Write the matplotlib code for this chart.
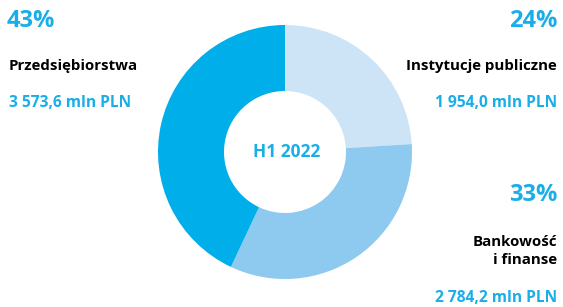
import matplotlib.pyplot as plt

# data
sectors = ['Instytucje publiczne', 'Bankowość\ni finanse', 'Przedsiębiorstwa']
shares = [24, 33, 43]
amounts = ['1 954,0 mln PLN', '2 784,2 mln PLN', '3 573,6 mln PLN']
period = 'H1 2022'

colors = ['#cde4f7', '#8ec9ef', '#00aeea']
accent = '#1aaee8'

W, H = 563, 307
fig = plt.figure(figsize=(W / 100, H / 100), dpi=100)
ax = fig.add_axes([0, 0, 1, 1])

cx, cy = 285, H - 152
ax.pie(shares, colors=colors, startangle=90, counterclock=False,
       radius=127, center=(cx, cy), frame=True,
       wedgeprops=dict(width=127 - 61, linewidth=0))
ax.set_xlim(0, W)
ax.set_ylim(0, H)
ax.set_aspect('equal')
ax.axis('off')

font = dict(family='Open Sans', fontweight='bold')
name_size = 10.8
amount_size = 11.2
pct_size = 17

ax.text(cx + 2, cy, period, ha='center', va='center', color=accent, fontsize=12.5, **font)

# left label (Przedsiębiorstwa)
ax.text(7, H - 21, f'{shares[2]}%', ha='left', va='center', color=accent, fontsize=pct_size, **font)
ax.text(9, H - 66, sectors[2], ha='left', va='center', color='black', fontsize=name_size, **font)
ax.text(9, H - 103, amounts[2], ha='left', va='center', color=accent, fontsize=amount_size, **font)

# right top (Instytucje publiczne)
rx = 557
ax.text(rx, H - 21, f'{shares[0]}%', ha='right', va='center', color=accent, fontsize=pct_size, **font)
ax.text(rx, H - 66, sectors[0], ha='right', va='center', color='black', fontsize=name_size, **font)
ax.text(rx, H - 103, amounts[0], ha='right', va='center', color=accent, fontsize=amount_size, **font)

# right bottom (Bankowość i finanse)
ax.text(rx, H - 195, f'{shares[1]}%', ha='right', va='center', color=accent, fontsize=pct_size, **font)
ax.text(rx, H - 251, sectors[1], ha='right', va='center', color='black', fontsize=name_size,
        linespacing=1.35, **font)
ax.text(rx, H - 298, amounts[1], ha='right', va='center', color=accent, fontsize=amount_size, **font)

fig.savefig('out.png', dpi=100)
